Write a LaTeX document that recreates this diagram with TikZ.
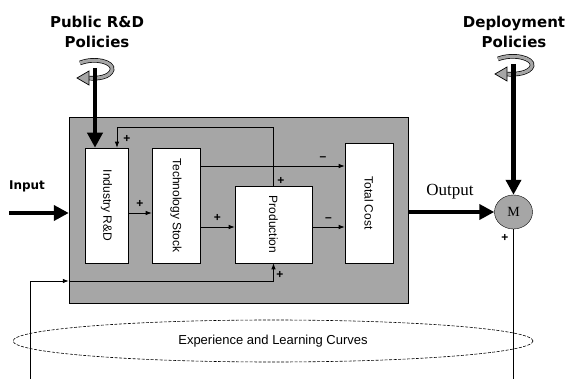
\documentclass[tikz,border=0pt]{standalone}
\usepackage{fontspec}
\setmainfont{Liberation Sans}
\newfontfamily\headfont{DejaVu Sans}
\newfontfamily\serifont{Liberation Serif}
\usetikzlibrary{arrows.meta,shapes.geometric}

\begin{document}
\begin{tikzpicture}[x=1pt,y=-1pt,
    box/.style={draw,fill=white,inner sep=0pt,line width=0.6pt},
    boxtext/.style={rotate=-90,font=\fontsize{12}{14}\selectfont},
    link/.style={line width=0.8pt,-{Latex[length=6pt,width=4.5pt]}},
    bigarrow/.style={line width=4.5pt,-{Triangle[length=15pt,width=15pt]}},
    sign/.style={font=\bfseries\fontsize{12}{12}\selectfont,inner sep=0pt},
    heading/.style={font=\headfont\bfseries\fontsize{15}{20}\selectfont,align=center},
    curl/.style={draw=black,double=black!35,double distance=3.2pt,line width=0.7pt}]
  \useasboundingbox (0,0) rectangle (566,379);

  % Shaded system and its blocks
  \node[draw,fill=black!35,minimum width=339,minimum height=186,inner sep=0pt] (sys) at (238.5,210) {};
  \node[box,minimum width=43,minimum height=115] (rd) at (106.5,205.5) {};
  \node[box,minimum width=48,minimum height=115] (ts) at (176,205.5) {};
  \node[box,minimum width=77,minimum height=77] (prod) at (273.5,224.5) {};
  \node[box,minimum width=48,minimum height=120] (tc) at (369,203) {};
  \node[boxtext] (rdt) at (rd) {Industry R\&D};
  \node[boxtext] (tst) at (ts) {Technology Stock};
  \node[boxtext] (prodt) at (prod) {Production};
  \node[boxtext] (tct) at (tc) {Total Cost};

  % Helper points
  \coordinate (r1) at (0,213);
  \coordinate (r2) at (0,227);
  \coordinate (r3) at (0,166);
  \coordinate (fb) at (117,127);
  \coordinate (lb) at (30,281);
  \coordinate (bot) at (30,379);
  \coordinate (inp) at (9,213);
  \coordinate (pp) at (95,68);
  \coordinate (dp) at (513.5,64);

  % Market node
  \node[ellipse,draw,fill=black!35,minimum width=38,minimum height=34,inner sep=0pt,
        font=\serifont\fontsize{14}{14}\selectfont] (m) at (513.5,212) {M};

  % Links inside the system
  \draw[link] (rd.east |- r1) -- node[sign,above=5pt] {+} (ts.west |- r1);
  \draw[link] (ts.east |- r2) -- node[sign,above=5pt] {+} (prod.west |- r2);
  \draw[link] (prod.east |- r2) -- node[sign,above=5pt] {--} (tc.west |- r2);
  \draw[link] (ts.east |- r3) -- node[sign,pos=0.85,above=5pt] {--} (tc.west |- r3);
  \draw[link] (prod.north) |- (fb) -- (fb |- rd.north);
  \node[sign] (p1) at (127,139) {+};
  \node[sign] (p2) at (281,181) {+};

  % Learning loop
  \draw[link] (bot) |- (sys.west |- lb);
  \draw[link] (sys.west |- lb) -| (prod.south);
  \node[sign] (p3) at (280,275) {+};
  \draw[line width=0.8pt] (m.south) -- (m.south |- bot);
  \node[sign] (p4) at (505,238) {+};

  % Input and output
  \draw[bigarrow] (inp) -- (sys.west |- inp);
  \node[font=\headfont\bfseries\fontsize{12}{12}\selectfont] (inl) at (27,186) {Input};
  \draw[bigarrow] (sys.east |- m) -- (m.west);
  \node[font=\serifont\fontsize{17}{17}\selectfont] (outl) at (450,192) {Output};

  % Policy levers
  \draw[curl] (80,63) .. controls (95,57) and (114,62) .. (112,70) .. controls (110,77) and (98,79) .. (88,78);
  \filldraw[fill=black!35,line width=0.7pt] (77,78) -- (89,71) -- (89,85) -- cycle;
  \draw[bigarrow] (pp) -- (pp |- rd.north);
  \begin{scope}[shift={(418,-4)}]
    \draw[curl] (80,63) .. controls (95,57) and (116,62) .. (114,70) .. controls (112,77) and (98,79) .. (88,78);
    \filldraw[fill=black!35,line width=0.7pt] (77,78) -- (89,71) -- (89,85) -- cycle;
  \end{scope}
  \draw[bigarrow] (dp) -- (m.north);
  \node[heading] (pub) at (97,32) {Public R\&D\\Policies};
  \node[heading] (dep) at (514,32) {Deployment\\Policies};

  % Experience curves
  \node[ellipse,draw,line width=0.6pt,dash pattern=on 3pt off 1.5pt,minimum width=520,minimum height=42,
        font=\fontsize{13}{13}\selectfont] (exp) at (273,341) {Experience and Learning Curves};
\end{tikzpicture}
\end{document}
